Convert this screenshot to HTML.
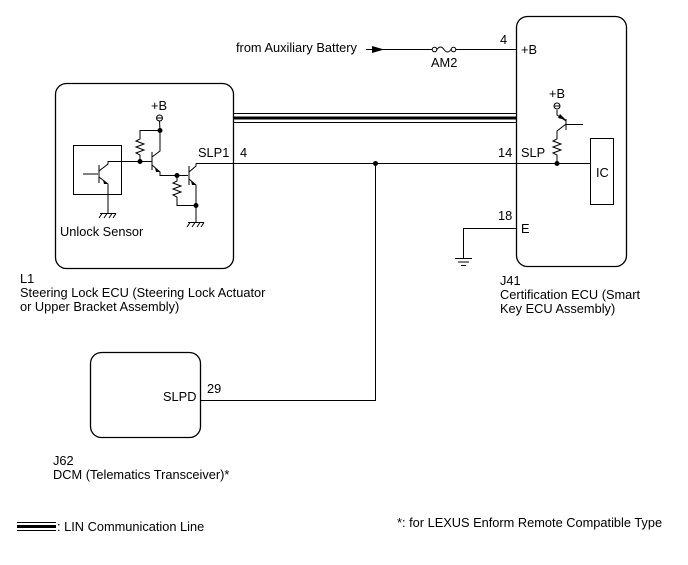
<!DOCTYPE html>
<html><head><meta charset="utf-8"><style>
html,body{margin:0;padding:0;background:#fff}
svg text{font-family:"Liberation Sans",sans-serif;font-size:12.8px;fill:#000}
</style></head><body>
<svg width="688" height="560" viewBox="0 0 688 560" xmlns="http://www.w3.org/2000/svg" stroke="#000" fill="none" stroke-width="1">
<!-- boxes -->
<rect x="55.5" y="83.5" width="178" height="185" rx="11" stroke-width="1.3"/>
<rect x="516.5" y="16.5" width="110" height="250" rx="11" stroke-width="1.3"/>
<rect x="90.5" y="352.5" width="110" height="85" rx="11" stroke-width="1.3"/>
<!-- LIN -->
<line x1="234" y1="113.5" x2="516" y2="113.5"/>
<line x1="234" y1="118" x2="516" y2="118" stroke-width="3"/>
<line x1="234" y1="122.5" x2="516" y2="122.5"/>
<!-- SLP line -->
<line x1="196" y1="163.5" x2="590" y2="163.5"/>
<polyline points="375.5,163 375.5,400.5 200,400.5"/>
<circle cx="375.5" cy="163.5" r="2" fill="#000"/>
<!-- +B supply -->
<line x1="366" y1="49.5" x2="432" y2="49.5"/>
<polygon points="372,46 384,49.5 372,53" fill="#000" stroke="none"/>
<line x1="455" y1="49.5" x2="516" y2="49.5"/>
<circle cx="434.5" cy="49.5" r="2.3" fill="#fff"/>
<circle cx="453.5" cy="49.5" r="2.3" fill="#fff"/>
<path d="M437,49.5 q3.5,-5 7,0 q3.5,5 7,0"/>
<!-- J41 internal -->
<rect x="590.5" y="138.5" width="23" height="66"/>
<circle cx="557" cy="163.5" r="2" fill="#000"/>
<polyline points="557,163 557,155 553,153 561,150 553,147 561,144 553,141 557,139 557,131 566,124"/>
<line x1="566" y1="119" x2="566" y2="130"/>
<line x1="566" y1="124.5" x2="583" y2="124.5"/>
<polyline points="566,121 557,115 557,110"/>
<polygon points="560,114 566,120 558,118" fill="#000" stroke="none"/>
<circle cx="557" cy="106" r="3"/><line x1="554" y1="106" x2="560" y2="106"/>
<!-- ground E -->
<polyline points="516,228.5 463.5,228.5 463.5,258"/>
<line x1="455" y1="258.5" x2="472" y2="258.5"/>
<line x1="458" y1="262" x2="469" y2="262"/>
<line x1="461" y1="265.5" x2="466" y2="265.5"/>
<!-- L1 internal -->
<rect x="73.5" y="145.5" width="48" height="49"/>
<line x1="83" y1="174" x2="98" y2="174"/>
<line x1="99" y1="165" x2="99" y2="183"/>
<polyline points="99,171 108,164 108,161.5 140,161.5"/>
<polyline points="99,177 108,184 108,213"/>
<polygon points="103,180 108,184 104,184" fill="#000" stroke="none"/>
<line x1="100" y1="213.5" x2="116" y2="213.5"/>
<line x1="102" y1="213.5" x2="99" y2="218"/><line x1="107" y1="213.5" x2="104" y2="218"/><line x1="112" y1="213.5" x2="109" y2="218"/><line x1="116" y1="213.5" x2="113" y2="218"/>
<circle cx="140" cy="161.5" r="2" fill="#000"/>
<line x1="140" y1="161.5" x2="152" y2="161.5"/>
<polyline points="140,161 140,155 136,153 144,150 136,147 144,144 136,141 140,139 140,130.5 160,130.5"/>
<circle cx="160" cy="130.5" r="2" fill="#000"/>
<circle cx="159.5" cy="118" r="3"/><line x1="156.5" y1="118" x2="162.5" y2="118"/>
<line x1="159.5" y1="121" x2="160" y2="130"/>
<line x1="152" y1="152" x2="152" y2="170"/>
<polyline points="152,157 160,151 160,130.5"/>
<polyline points="152,165 160,172 160,175.5 177,175.5 188,175.5"/>
<polygon points="155,168 160,172 156,172" fill="#000" stroke="none"/>
<circle cx="177" cy="175.5" r="2" fill="#000"/>
<polyline points="177,175 177,181 173,183 181,186 173,189 181,192 173,195 177,197 177,205.5 196,205.5"/>
<line x1="189" y1="166" x2="189" y2="185"/>
<polyline points="189,172 196,166 196,163.5"/>
<polyline points="189,179 196,185 196,222"/>
<polygon points="191,181 196,185 192,185" fill="#000" stroke="none"/>
<circle cx="196" cy="205.5" r="2" fill="#000"/>
<line x1="188" y1="222.5" x2="204" y2="222.5"/>
<line x1="190" y1="222.5" x2="187" y2="227"/><line x1="195" y1="222.5" x2="192" y2="227"/><line x1="200" y1="222.5" x2="197" y2="227"/><line x1="204" y1="222.5" x2="201" y2="227"/>
<!-- legend -->
<line x1="17" y1="522.5" x2="56" y2="522.5"/>
<line x1="17" y1="526.5" x2="56" y2="526.5" stroke-width="3"/>
<line x1="17" y1="530.5" x2="56" y2="530.5"/>
<g stroke="none" fill="#000">
<text x="236" y="52">from Auxiliary Battery</text>
<text x="431" y="67">AM2</text>
<text x="500" y="44">4</text>
<text x="521" y="54">+B</text>
<text x="549" y="98">+B</text>
<text x="151" y="110">+B</text>
<text x="198" y="157">SLP1</text>
<text x="240" y="157">4</text>
<text x="498" y="157">14</text>
<text x="521" y="157">SLP</text>
<text x="596" y="177">IC</text>
<text x="498" y="220">18</text>
<text x="521" y="233">E</text>
<text x="60" y="236">Unlock Sensor</text>
<text x="20" y="283">L1</text>
<text x="20" y="297">Steering Lock ECU (Steering Lock Actuator</text>
<text x="20" y="311">or Upper Bracket Assembly)</text>
<text x="500" y="285">J41</text>
<text x="500" y="299">Certification ECU (Smart</text>
<text x="500" y="313">Key ECU Assembly)</text>
<text x="163" y="401">SLPD</text>
<text x="207" y="393">29</text>
<text x="53" y="465">J62</text>
<text x="53" y="479">DCM (Telematics Transceiver)*</text>
<text x="57" y="531">: LIN Communication Line</text>
<text x="397" y="527">*: for LEXUS Enform Remote Compatible Type</text>
</g>
</svg>
</body></html>
